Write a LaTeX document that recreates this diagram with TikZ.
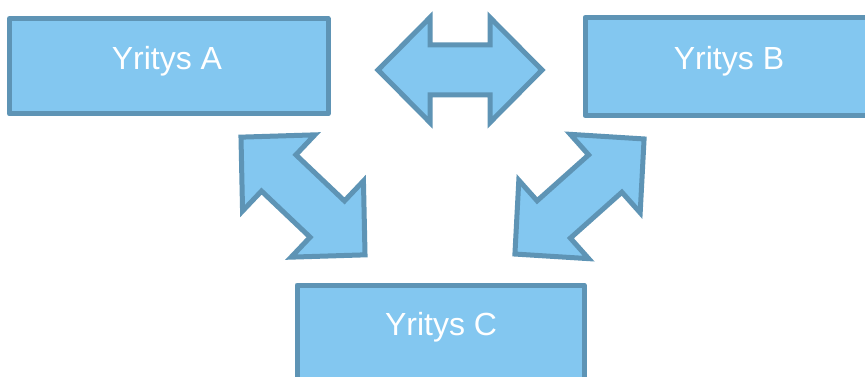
\documentclass[tikz,border=0pt]{standalone}
\usepackage{fontspec}
\setmainfont{Liberation Sans}
\definecolor{boxfill}{RGB}{131,199,240}
\definecolor{boxline}{RGB}{94,148,181}
\tikzset{
  company/.style={draw=boxline, fill=boxfill, line width=5pt, line join=round},
  blockarrow/.style={draw=boxline, fill=boxfill, line width=5pt, line join=miter},
  label/.style={text=white, font=\fontsize{32}{36}\selectfont, anchor=base, inner sep=0pt}
}
\newcommand{\dblarrow}[4]{% center x, center y, angle, length
  \begin{scope}[shift={(#1,#2)}, rotate=#3]
    \pgfmathsetmacro{\hl}{#4/2}
    \pgfmathsetmacro{\hb}{#4/2-52}
    \draw[blockarrow] (-\hl,0) -- (-\hb,-52.5) -- (-\hb,-25) -- (\hb,-25) -- (\hb,-52.5)
      -- (\hl,0) -- (\hb,52.5) -- (\hb,25) -- (-\hb,25) -- (-\hb,52.5) -- cycle;
  \end{scope}}
\begin{document}
\begin{tikzpicture}[x=1pt, y=-1pt]
\useasboundingbox (0,0) rectangle (865,377);
\clip (0,0) rectangle (865,377);
\fill[white] (0,0) rectangle (865,377);
% boxes
\draw[company] (9.5,18.5) rectangle (328,114);
\draw[company] (585,17.5) rectangle (875,115.5);
\draw[company] (297,285) rectangle (584,395);
\node[label] (a) at (167,69.5) {Yritys A};
\node[label] (b) at (729,69.5) {Yritys B};
\node[label] (c) at (441,335) {Yritys C};
% block arrows
\dblarrow{460}{70}{0}{164}
\dblarrow{303}{196}{-43.5}{171}
\dblarrow{579.5}{196.5}{41.7}{173}
\end{tikzpicture}
\end{document}
